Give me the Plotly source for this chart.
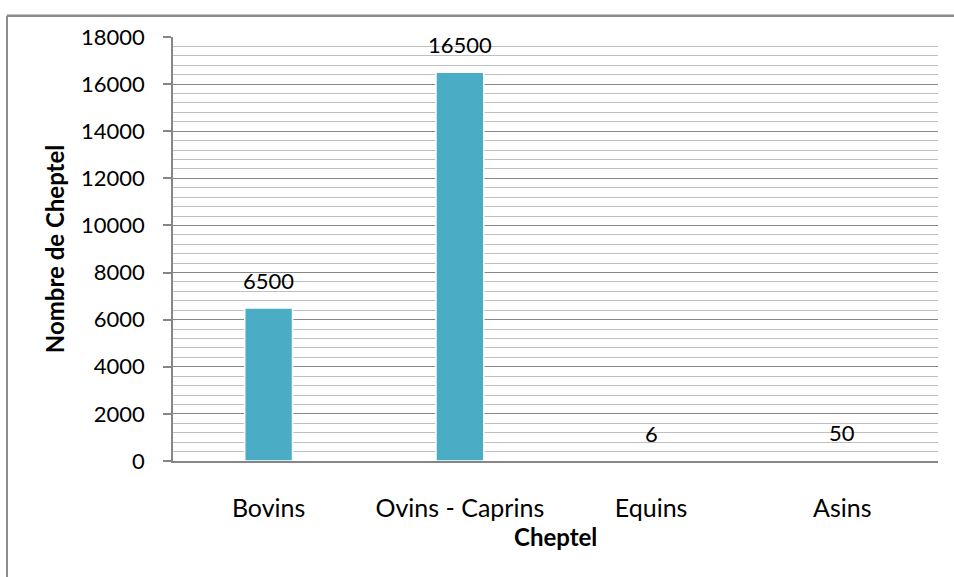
import plotly.graph_objects as go

# Livestock counts by category
categories = ["Bovins", "Ovins - Caprins", "Equins", "Asins"]
values = [6500, 16500, 6, 50]
y_ticks = [0, 2000, 4000, 6000, 8000, 10000, 12000, 14000, 16000, 18000]

FONT = "Lato"
BAR_COLOR = "#4BACC6"
AXIS_GRAY = "#868686"
MINOR_GRAY = "#BFBFBF"
FRAME_GRAY = "#8C8C8C"

fig = go.Figure()
fig.add_trace(go.Bar(
    x=categories,
    y=values,
    marker=dict(color=BAR_COLOR, line=dict(color="white", width=1.5)),
    width=0.25,
    hoverinfo="x+y",
))

# Value labels above each bar
for cat, val in zip(categories, values):
    fig.add_annotation(
        x=cat, y=val, text=str(val), showarrow=False,
        yanchor="bottom", yshift=12,
        font=dict(family=FONT, size=22, color="black"),
    )

# X axis title placed below the category labels
fig.add_annotation(
    xref="paper", yref="paper", x=0.5, y=-0.178,
    text="<b>Cheptel</b>", showarrow=False, yanchor="middle",
    font=dict(family=FONT, size=24, color="black"),
)

# Outer chart frame: top edge and left edge
fig.add_shape(
    type="line", xref="paper", yref="paper",
    x0=-0.217, x1=1.05, y0=1.05, y1=1.05,
    line=dict(color=FRAME_GRAY, width=2.5),
)
fig.add_shape(
    type="line", xref="paper", yref="paper",
    x0=-0.217, x1=-0.217, y0=1.05, y1=-0.4,
    line=dict(color=FRAME_GRAY, width=2),
)

fig.update_layout(
    width=954, height=577,
    margin=dict(l=173, r=16, t=37, b=116),
    paper_bgcolor="white", plot_bgcolor="white",
    showlegend=False,
    font=dict(family=FONT, size=22, color="black"),
    xaxis=dict(
        showline=True, linecolor=AXIS_GRAY, linewidth=1.5,
        ticks="", showgrid=False,
        ticklabelstandoff=24,
        tickfont=dict(family=FONT, size=25),
    ),
    yaxis=dict(
        range=[0, 18000], tickvals=y_ticks, ticktext=[str(v) for v in y_ticks],
        showline=True, linecolor=AXIS_GRAY, linewidth=1.5,
        ticks="outside", ticklen=8, tickcolor=AXIS_GRAY, tickwidth=1.5,
        ticklabelstandoff=14,
        tickfont=dict(family=FONT, size=22),
        showgrid=True, gridcolor=AXIS_GRAY, gridwidth=1.2,
        zeroline=False,
        minor=dict(dtick=400, showgrid=True, gridcolor=MINOR_GRAY, gridwidth=1.2, ticks=""),
        title=dict(text="<b>Nombre de Cheptel</b>", font=dict(family=FONT, size=24), standoff=10),
    ),
)

fig.write_html("out.html", config={"displayModeBar": False})
